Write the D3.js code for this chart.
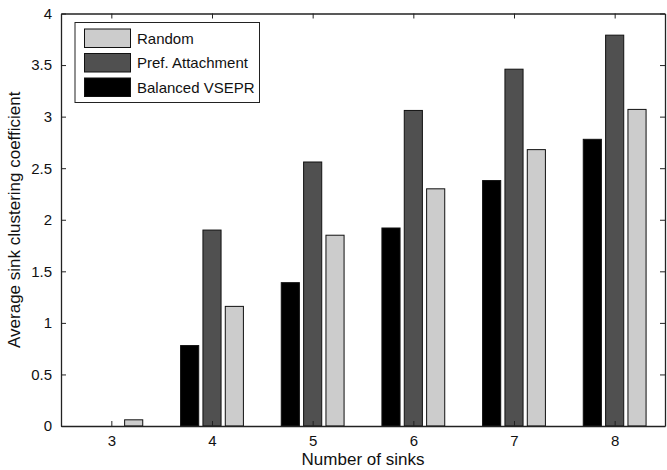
<!DOCTYPE html>
<html>
<head>
<meta charset="utf-8">
<script src="https://cdn.jsdelivr.net/npm/d3@7"></script>
<style>
  html, body { margin: 0; padding: 0; background: #fff; }
  svg text { font-family: "Liberation Sans", Arial, Helvetica, sans-serif; fill: #111; }
</style>
</head>
<body>
<svg id="chart" width="667" height="470"></svg>
<script>
// Number of sinks on the x axis
const sinks = [3, 4, 5, 6, 7, 8];
// Average sink clustering coefficient per method
const balancedVSEPR = [0, 0.78, 1.39, 1.92, 2.38, 2.78];
const prefAttachment = [0, 1.90, 2.56, 3.06, 3.46, 3.79];
const randomNet = [0.06, 1.16, 1.85, 2.30, 2.68, 3.07];
const seriesNames = ["Balanced VSEPR", "Pref. Attachment", "Random"];
const seriesColors = ["#000000", "#505050", "#cccccc"];
const yTicks = [0, 0.5, 1, 1.5, 2, 2.5, 3, 3.5, 4];
const legendOrder = ["Random", "Pref. Attachment", "Balanced VSEPR"];

const series = [balancedVSEPR, prefAttachment, randomNet];

const svg = d3.select("#chart");
const plotL = 61, plotR = 665, plotT = 13.5, plotB = 426;

const x = d3.scaleLinear().domain([2.5, 8.5]).range([plotL, plotR]);
const y = d3.scaleLinear().domain([0, 4]).range([plotB, plotT]);

const offsets = [-0.222, 0, 0.222];
const barW = 0.18;

// grouped bars
series.forEach((vals, si) => {
  svg.append("g").selectAll("rect")
    .data(sinks.map((s, i) => ({ s, v: vals[i] })).filter(d => d.v > 0))
    .join("rect")
    .attr("x", d => x(d.s + offsets[si] - barW / 2))
    .attr("width", d => x(d.s + offsets[si] + barW / 2) - x(d.s + offsets[si] - barW / 2))
    .attr("y", d => y(d.v))
    .attr("height", d => y(0) - y(d.v))
    .attr("fill", seriesColors[si])
    .attr("stroke", "#111")
    .attr("stroke-width", 1);
});

// boxed axes with inward ticks on all four sides
const tickLen = 5;
const axB = svg.append("g").attr("transform", `translate(0,${plotB})`)
  .call(d3.axisBottom(x).tickValues(sinks).tickFormat(d3.format("d")).tickSizeInner(-tickLen).tickSizeOuter(0).tickPadding(9));
const axT = svg.append("g").attr("transform", `translate(0,${plotT})`)
  .call(d3.axisTop(x).tickValues(sinks).tickFormat("").tickSizeInner(-tickLen).tickSizeOuter(0));
const axL = svg.append("g").attr("transform", `translate(${plotL},0)`)
  .call(d3.axisLeft(y).tickValues(yTicks).tickFormat(d3.format("~g")).tickSizeInner(-tickLen).tickSizeOuter(0).tickPadding(9));
const axR = svg.append("g").attr("transform", `translate(${plotR},0)`)
  .call(d3.axisRight(y).tickValues(yTicks).tickFormat("").tickSizeInner(-tickLen).tickSizeOuter(0));

[axB, axT, axL, axR].forEach(g => {
  g.select(".domain").attr("stroke", "#222").attr("stroke-width", 1.3);
  g.selectAll(".tick line").attr("stroke", "#222");
  g.selectAll("text").attr("font-size", 15).attr("fill", "#111")
    .attr("font-family", '"Liberation Sans", Arial, sans-serif');
});

// axis titles
svg.append("text")
  .attr("x", (plotL + plotR) / 2).attr("y", 465)
  .attr("text-anchor", "middle").attr("font-size", 17)
  .text("Number of sinks");
svg.append("text")
  .attr("transform", `translate(20,${(plotT + plotB) / 2}) rotate(-90)`)
  .attr("text-anchor", "middle").attr("font-size", 17)
  .text("Average sink clustering coefficient");

// legend
const lg = svg.append("g");
lg.append("rect").attr("x", 75).attr("y", 22.5).attr("width", 184.5).attr("height", 80)
  .attr("fill", "#fff").attr("stroke", "#222").attr("stroke-width", 1);
legendOrder.forEach((name, i) => {
  const si = seriesNames.indexOf(name);
  const yy = 29 + i * 24.5;
  lg.append("rect").attr("x", 84.5).attr("y", yy).attr("width", 46).attr("height", 18.5)
    .attr("fill", seriesColors[si]).attr("stroke", "#111");
  lg.append("text").attr("x", 137).attr("y", yy + 14.5).attr("font-size", 15).text(name);
});
</script>
</body>
</html>
